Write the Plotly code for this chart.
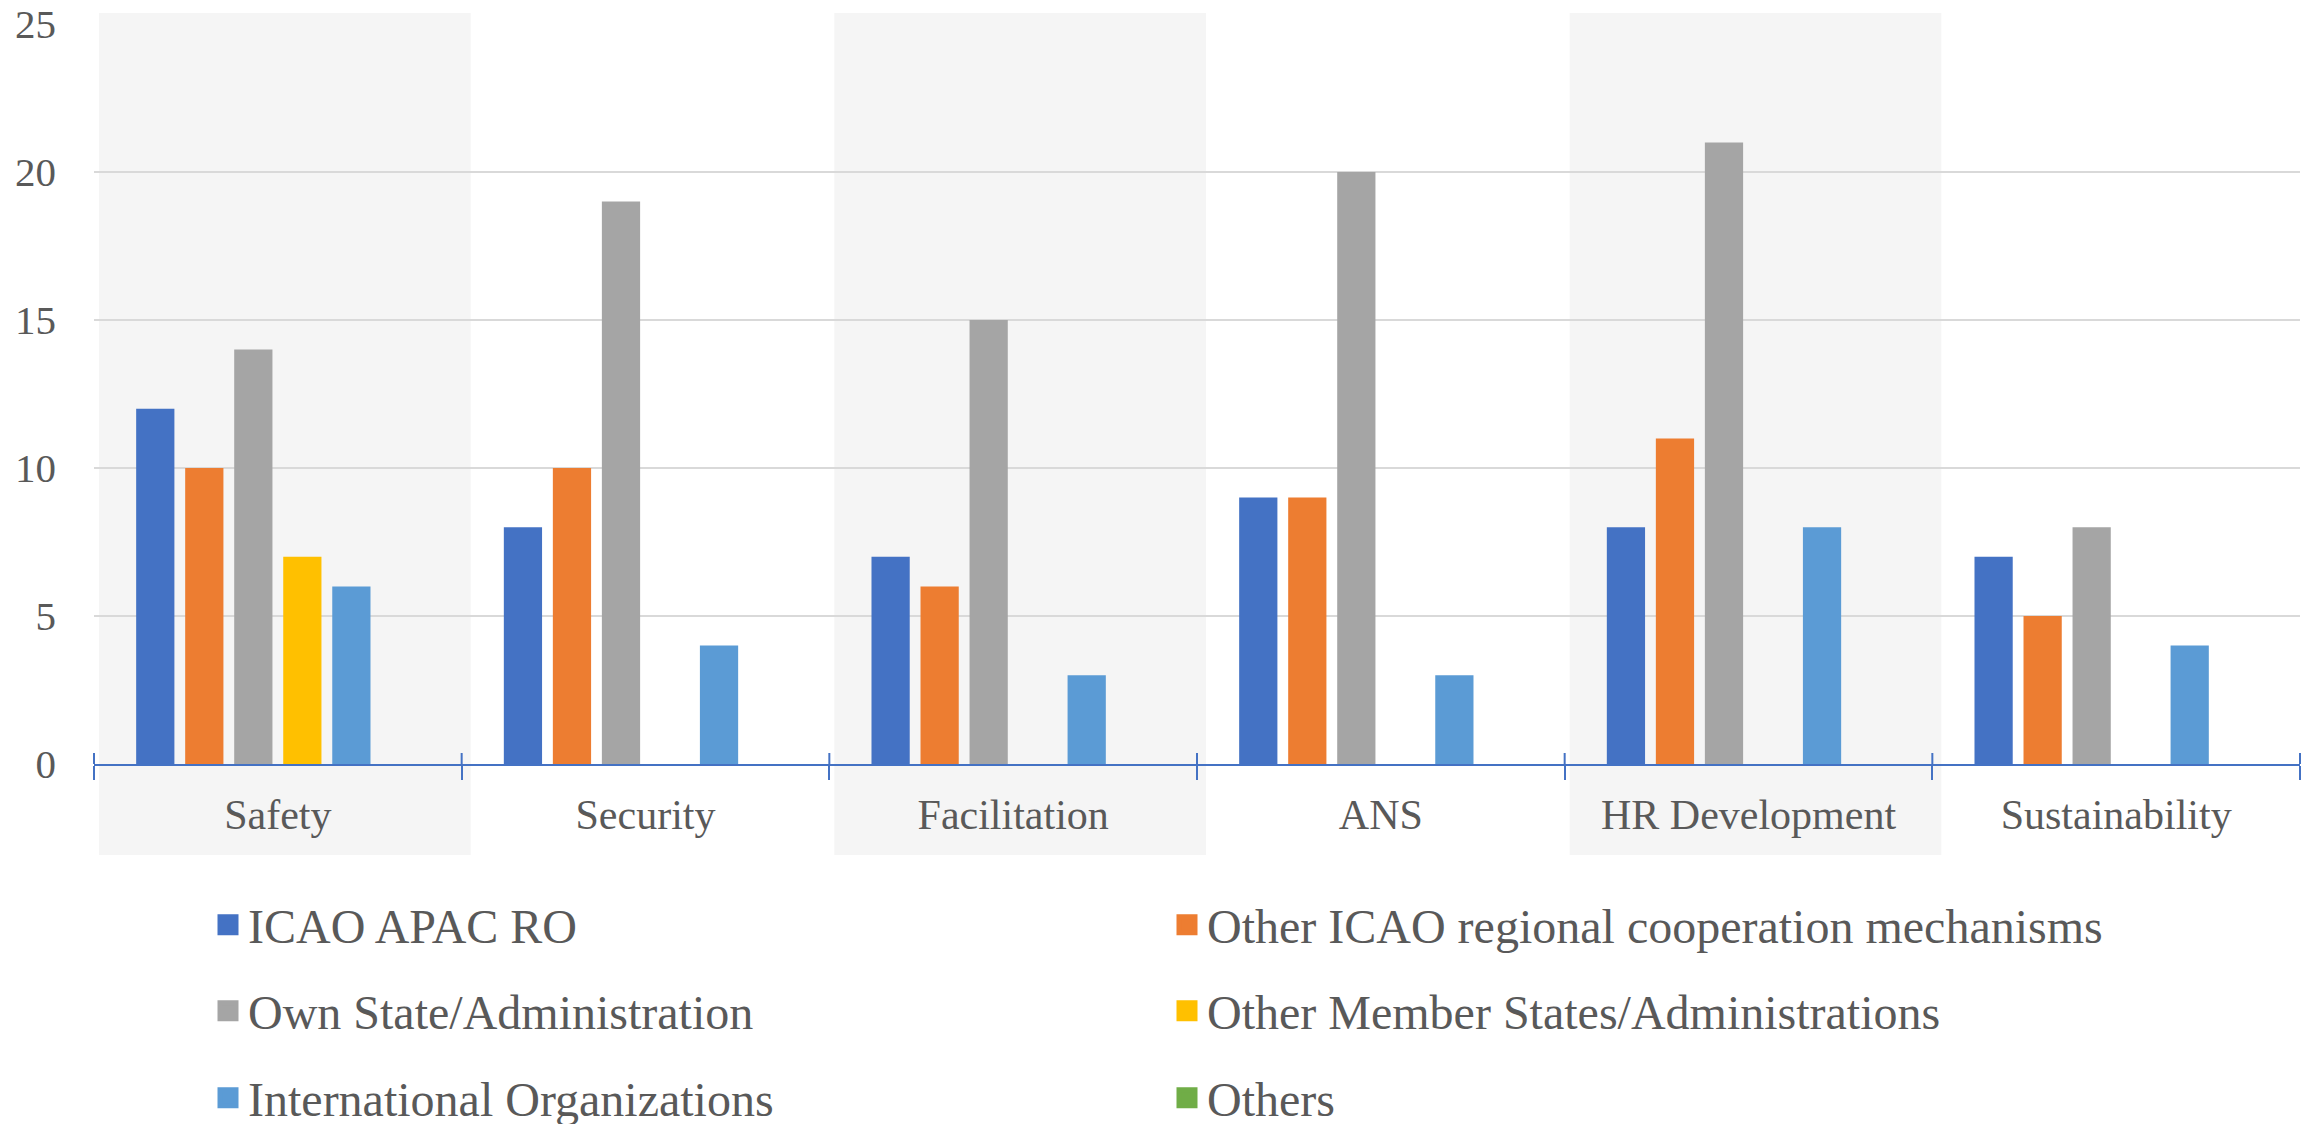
import plotly.graph_objects as go

categories = ["Safety", "Security", "Facilitation", "ANS", "HR Development", "Sustainability"]
series_names = [
    "ICAO APAC RO",
    "Other ICAO regional cooperation mechanisms",
    "Own State/Administration",
    "Other Member States/Administrations",
    "International Organizations",
    "Others",
]
icao_apac_ro = [12, 8, 7, 9, 8, 7]
other_icao_regional = [10, 10, 6, 9, 11, 5]
own_state = [14, 19, 15, 20, 21, 8]
other_member_states = [7, 0, 0, 0, 0, 0]
international_orgs = [6, 4, 3, 3, 8, 4]
others = [0, 0, 0, 0, 0, 0]
series_values = [icao_apac_ro, other_icao_regional, own_state,
                 other_member_states, international_orgs, others]
colors = ["#4472C4", "#ED7D31", "#A5A5A5", "#FFC000", "#5B9BD5", "#70AD47"]
y_ticks = [0, 5, 10, 15, 20, 25]

FONT = "Liberation Serif, Times New Roman, serif"
TXT = "#595959"
W, H = 2316, 1124
ML, MR, MT, MB = 94, 16, 24, 360
PW = W - ML - MR
PH = H - MT - MB

fig = go.Figure()
legend_ids = ["legend", "legend", "legend2", "legend2", "legend3", "legend3"]
for name, vals, col, lg in zip(series_names, series_values, colors, legend_ids):
    fig.add_trace(go.Bar(
        x=categories, y=vals, name=name, marker=dict(color=col, line=dict(width=0)),
        legendgroup=name, showlegend=False,
    ))
    fig.add_trace(go.Scatter(
        x=[None], y=[None], mode="markers", name=name, legendgroup=name,
        marker=dict(symbol="square", size=16, color=col, line=dict(width=5, color=col)),
        legend=lg, hoverinfo="skip",
    ))

shapes = []
n = len(categories)
for i in range(0, n, 2):
    shapes.append(dict(
        type="rect", xref="x domain", yref="paper",
        x0=i / n + 5 / PW, x1=(i + 1) / n + 9 / PW,
        y0=(MT + PH - 855) / PH, y1=(MT + PH - 13) / PH,
        fillcolor="#F5F5F5", line=dict(width=0), layer="below",
    ))
for k in range(n + 1):
    shapes.append(dict(
        type="line", xref="x domain", yref="paper",
        x0=k / n, x1=k / n, y0=0, y1=11 / PH,
        line=dict(color="#4472C4", width=2), layer="above",
    ))

def leg(row_center_px):
    return dict(
        orientation="h", x=(208 - ML) / PW, xanchor="left",
        y=(MT + PH - row_center_px) / PH, yanchor="middle",
        font=dict(family=FONT, size=48, color=TXT),
        entrywidth=914, entrywidthmode="pixels",
        bgcolor="rgba(0,0,0,0)", borderwidth=0,
    )

fig.update_layout(
    width=W, height=H,
    margin=dict(l=ML, r=MR, t=MT, b=MB, autoexpand=False),
    paper_bgcolor="white", plot_bgcolor="rgba(0,0,0,0)",
    barmode="group", bargap=0.2, bargroupgap=0.22,
    font=dict(family=FONT, color=TXT),
    shapes=shapes,
    legend=leg(925), legend2=leg(1011), legend3=leg(1098),
    xaxis=dict(
        range=[-0.5, n - 0.5], showline=True, linecolor="#4472C4", linewidth=2,
        ticks="outside", tickson="boundaries", ticklen=14, tickwidth=2, tickcolor="#4472C4",
        tickfont=dict(family=FONT, size=42, color=TXT), showgrid=False,
        ticklabelstandoff=13, automargin=False,
    ),
    yaxis=dict(
        range=[0, 25], tickvals=y_ticks, showgrid=True, gridcolor="#D9D9D9", gridwidth=2,
        zeroline=False, showline=False, ticks="", ticklabelstandoff=37,
        tickfont=dict(family=FONT, size=41, color=TXT), automargin=False,
    ),
)

fig.write_html(
    "out.html",
    config={"displayModeBar": False},
    post_script="document.body.style.margin='0';document.body.style.overflow='hidden';",
)
